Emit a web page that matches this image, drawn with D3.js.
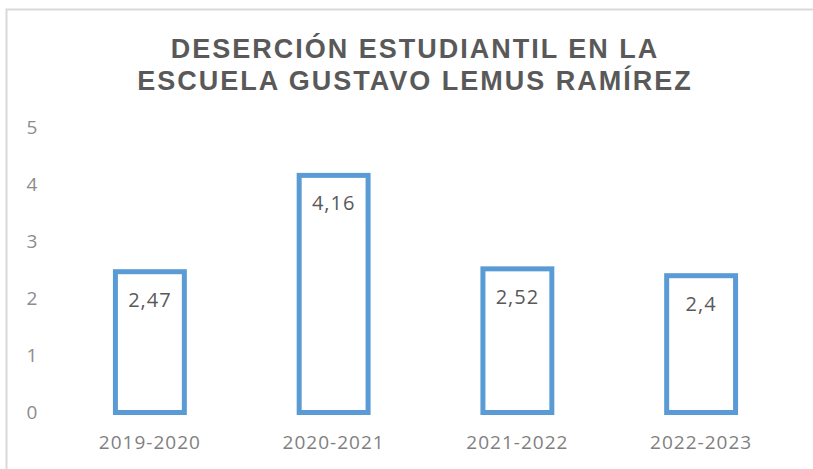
<!DOCTYPE html>
<html>
<head>
<meta charset="utf-8">
<script src="https://cdn.jsdelivr.net/npm/d3@7"></script>
<style>
  body { margin: 0; background: #fff; }
  svg { display: block; }
</style>
</head>
<body>
<svg id="chart" width="813" height="469"></svg>
<script>
// Chart data
var periods = ["2019-2020", "2020-2021", "2021-2022", "2022-2023"];
var dropout = [2.47, 4.16, 2.52, 2.4];
var yTicks = [0, 1, 2, 3, 4, 5];
var titleLines = ["DESERCIÓN ESTUDIANTIL EN LA", "ESCUELA GUSTAVO LEMUS RAMÍREZ"];

var svg = d3.select("#chart");

// Outer frame (only top and left edges are visible in the picture)
svg.append("rect")
    .attr("x", 6.5)
    .attr("y", 9.5)
    .attr("width", 820)
    .attr("height", 480)
    .style("fill", "#fff")
    .style("stroke", "#d9d9d9")
    .style("stroke-width", 2);

// Title
svg.append("text")
    .attr("x", 415)
    .attr("y", 58)
    .attr("text-anchor", "middle")
    .style("font-family", "Liberation Sans, Arial, sans-serif")
    .style("font-weight", "bold")
    .style("font-size", "27px")
    .style("letter-spacing", "2px")
    .style("fill", "#595959")
    .selectAll("tspan")
    .data(titleLines)
    .enter()
    .append("tspan")
    .attr("x", 415)
    .attr("dy", function(d, i) { return i === 0 ? 0 : 32; })
    .text(d => d);

// Scales
var xScale = d3.scaleBand()
    .domain(periods)
    .range([58, 793])
    .paddingInner(0.625)
    .paddingOuter(0.3125);

var yScale = d3.scaleLinear()
    .domain([0, 5])
    .range([412.5, 127.5]);

// Y axis labels (no axis line, no gridlines)
var yAxis = d3.axisLeft(yScale)
    .tickValues(yTicks)
    .tickSize(0)
    .tickPadding(0)
    .tickFormat(d3.format("d"));

var yg = svg.append("g")
    .attr("transform", "translate(38,0)")
    .call(yAxis);
yg.select(".domain").remove();
yg.selectAll("text")
    .attr("text-anchor", "middle")
    .attr("x", -6)
    .style("font-family", "Open Sans, sans-serif")
    .style("font-size", "19px")
    .style("fill", "#8c8c8c");

// X axis labels
var xAxis = d3.axisBottom(xScale)
    .tickSize(0)
    .tickPadding(0);

var xg = svg.append("g")
    .attr("transform", "translate(0,435)")
    .call(xAxis);
xg.select(".domain").remove();
xg.selectAll("text")
    .style("font-family", "Open Sans, sans-serif")
    .style("font-size", "19px")
    .style("letter-spacing", "1px")
    .style("fill", "#7f7f7f");

// Bars: outlined only
var bars = svg.selectAll(".bar")
    .data(periods)
    .enter()
    .append("g")
    .attr("class", "bar");

bars.append("rect")
    .attr("x", d => xScale(d))
    .attr("width", xScale.bandwidth())
    .attr("y", (d, i) => yScale(dropout[i]))
    .attr("height", (d, i) => yScale(0) - yScale(dropout[i]))
    .style("fill", "#fff")
    .style("stroke", "#5b9bd5")
    .style("stroke-width", 5);

// Value labels inside the top of each bar
bars.append("text")
    .attr("x", d => xScale(d) + xScale.bandwidth() / 2)
    .attr("y", (d, i) => yScale(dropout[i]) + 35)
    .attr("text-anchor", "middle")
    .style("font-family", "Open Sans, sans-serif")
    .style("font-size", "20px")
    .style("letter-spacing", "1px")
    .style("fill", "#595959")
    .text((d, i) => String(dropout[i]).replace(".", ","));
</script>
</body>
</html>
